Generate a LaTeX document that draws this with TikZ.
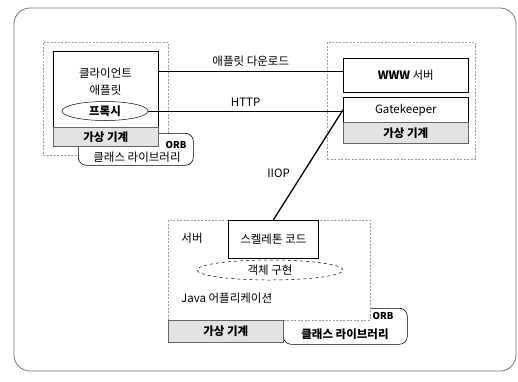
\documentclass[tikz,border=0pt]{standalone}
\usepackage{fontspec}
\setmainfont{Noto Sans CJK KR}
\usetikzlibrary{shapes.geometric,calc}
\begin{document}
\begin{tikzpicture}[x=1pt,y=-1pt,
  lbl/.style={font=\fontsize{11.5}{14}\selectfont, inner sep=0pt},
  lblb/.style={font=\fontsize{11.5}{14}\selectfont\bfseries, inner sep=0pt},
  small/.style={font=\fontsize{9.5}{11}\selectfont\bfseries, inner sep=0pt},
  dotbox/.style={draw=gray!75, dash pattern=on 2pt off 1.5pt, line width=0.6pt, inner sep=0pt, anchor=north west},
  solidbox/.style={draw=black, line width=0.6pt, fill=white, inner sep=0pt, anchor=north west},
  vmband/.style={draw=black!60, line width=0.5pt, fill=gray!22, inner sep=0pt, anchor=north west},
  orbbox/.style={draw=black, line width=0.6pt, rounded corners=8pt, fill=white, inner sep=0pt, anchor=north west},
  conn/.style={draw=black, line width=1pt},
]
\useasboundingbox (0,0) rectangle (518,381);
% outer frame
\draw[black!55, line width=0.8pt, rounded corners=16pt] (14,8) rectangle (516,371);

% ---------- left: client ----------
\node[dotbox, minimum width=125pt, minimum height=113pt] (lout) at (43,42) {};
\node[orbbox, minimum width=115pt, minimum height=32pt] (lorb) at (78,133) {};
\node[solidbox, minimum width=105pt, minimum height=76pt] (lin) at (53,51) {};
\node[vmband, minimum width=105pt, minimum height=19pt] (lvm) at (53,127) {};
\node[lblb] at (lvm.center) {가상 기계};
\node[small] (lorbt) at (176,145) {ORB};
\node[lbl] (llib) at (137,157) {클래스 라이브러리};
\node[lbl] (lt1) at (105.5,73) {클라이언트};
\node[lbl] (lt2) at (105.5,90) {애플릿};
\node[ellipse, draw, line width=0.5pt, minimum width=86pt, minimum height=19pt, inner sep=0pt, font=\fontsize{11.5}{14}\selectfont\bfseries] (proxy) at (105,111) {프록시};

% ---------- right: web server ----------
\node[dotbox, minimum width=148pt, minimum height=117pt] (rout) at (327,42) {};
\node[solidbox, minimum width=125pt, minimum height=34pt] (www) at (343,58) {};
\node[lbl] at (www.center) {\textbf{WWW} 서버};
\node[solidbox, minimum width=125pt, minimum height=25pt] (gate) at (343,97) {};
\node[lbl] at (gate.center) {Gatekeeper};
\node[vmband, minimum width=125pt, minimum height=21pt] (rvm) at (343,122) {};
\node[lblb] at (rvm.center) {가상 기계};

% ---------- bottom: server application ----------
\node[orbbox, minimum width=124pt, minimum height=36pt] (borb) at (283,308) {};
\node[solidbox, draw=gray!75, dash pattern=on 2pt off 1.5pt, minimum width=202pt, minimum height=100pt] (bmain) at (168,220) {};
\node[vmband, minimum width=115pt, minimum height=22pt] (bvm) at (168,320) {};
\node[lblb] at (bvm.center) {가상 기계};
\node[small] (borbt) at (383,316) {ORB};
\node[lblb] (blib) at (345,334) {클래스 라이브러리};
\node[solidbox, minimum width=90pt, minimum height=38pt] (skel) at (228,220) {};
\node[lbl] at (skel.center) {스켈레톤 코드};
\node[lbl] (srv) at (192,238) {서버};
\node[ellipse, draw, dashed, line width=0.5pt, fill=white, minimum width=146pt, minimum height=20pt, inner sep=0pt, font=\fontsize{11.5}{14}\selectfont] (obj) at (270,270) {객체 구현};
\node[lbl, anchor=west] (japp) at (181,298) {Java 어플리케이션};

% ---------- connectors ----------
\draw[conn] (lin.east |- 0,71) -- node[lbl, above=4pt] {애플릿 다운로드} (www.west |- 0,71);
\draw[conn] (proxy.east) -- node[lbl, above=4pt] {HTTP} (gate.west |- proxy.east);
\draw[conn, line width=1.3pt] (gate.west) -- node[lbl, pos=0.58, left=12pt] {IIOP} (skel.north);
\end{tikzpicture}
\end{document}
